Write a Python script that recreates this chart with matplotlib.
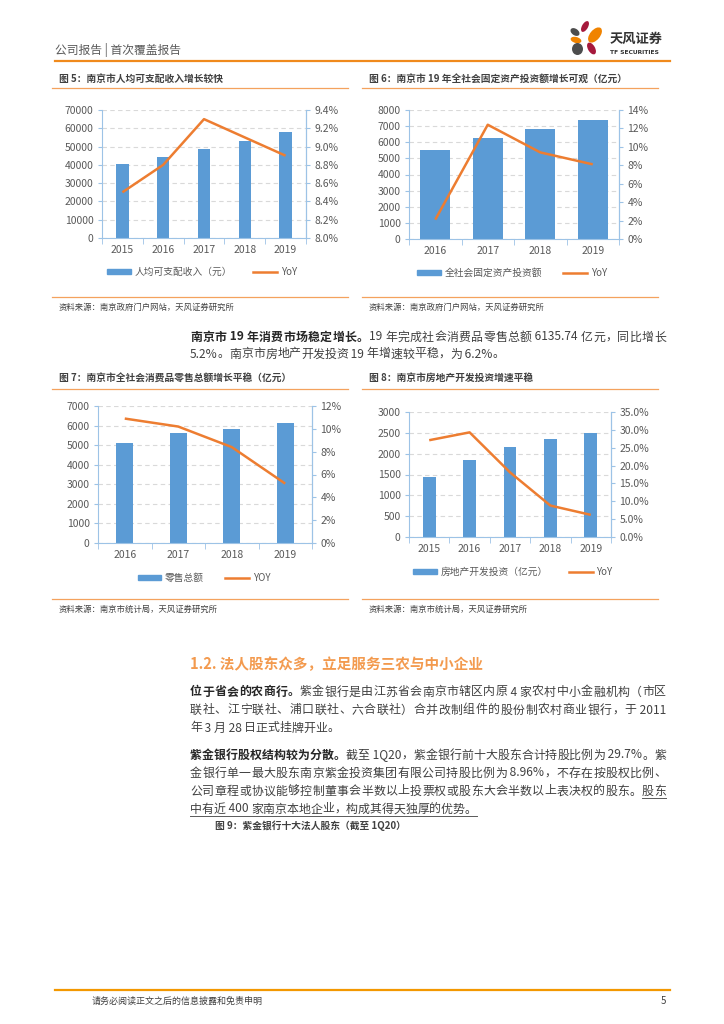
import matplotlib
matplotlib.use('Agg')
import matplotlib.pyplot as plt
from matplotlib.patches import Ellipse, Patch
from matplotlib.lines import Line2D
from matplotlib.ticker import FuncFormatter
from matplotlib.font_manager import FontProperties

plt.rcParams['font.family'] = ['Noto Sans CJK SC', 'DejaVu Sans']

W, H = 724, 1024
BLUE = '#5B9BD5'
ORANGE = '#ED7D31'
SPINE = '#9DC3E6'
TICK = '#595959'
BODY = '#404040'
DARK = '#262626'
RULE = '#F4A25E'

# ---- data ----
income_years = ['2015', '2016', '2017', '2018', '2019']
income = [40500, 44200, 48400, 53100, 57900]
income_yoy = [8.5, 8.8, 9.3, 9.1, 8.9]

invest_years = ['2016', '2017', '2018', '2019']
invest = [5550, 6250, 6830, 7360]
invest_yoy = [2.1, 12.4, 9.4, 8.1]

retail_years = ['2016', '2017', '2018', '2019']
retail = [5088, 5615, 5838, 6136]
retail_yoy = [10.9, 10.2, 8.4, 5.2]

estate_years = ['2015', '2016', '2017', '2018', '2019']
estate = [1430, 1855, 2170, 2360, 2505]
estate_yoy = [27.1, 29.3, 18.1, 8.8, 6.2]

fig = plt.figure(figsize=(W / 100, H / 100), dpi=100)
renderer = fig.canvas.get_renderer()


def fx(x):
    return x / W


def fy(y):
    return 1 - y / H


def hline(x0, x1, y, color, lw):
    fig.add_artist(Line2D([fx(x0), fx(x1)], [fy(y), fy(y)], color=color, lw=lw,
                          transform=fig.transFigure))


def chart(box, years, bars, yoy, bar_ticks, yoy_ticks, yoy_fmt, bar_w,
          labels, leg_xy):
    l, t, r, b = box
    ax = fig.add_axes([fx(l), fy(b), (r - l) / W, (b - t) / H])
    x = list(range(len(years)))
    ax.bar(x, bars, width=bar_w, color=BLUE, zorder=2)
    ax.set_xlim(-0.5, len(years) - 0.5)
    ax.set_ylim(bar_ticks[0], bar_ticks[-1])
    ax.set_yticks(bar_ticks)
    ax.set_xticks(x)
    ax.set_xticklabels(years)
    ax.set_xticks([i - 0.5 for i in range(len(years) + 1)], minor=True)
    ax.tick_params(axis='x', which='major', length=0, pad=5, labelsize=7.5,
                   labelcolor=TICK)
    ax.tick_params(axis='x', which='minor', length=4, color=SPINE)
    ax.tick_params(axis='y', length=3, color=SPINE, labelsize=7.5,
                   labelcolor=TICK, pad=3)
    ax.grid(axis='y', ls=(0, (4, 3)), color='#D9D9D9', lw=0.8)
    ax.set_axisbelow(True)
    ax.spines['top'].set_visible(False)
    for s in ['left', 'right', 'bottom']:
        ax.spines[s].set_color(SPINE)

    ax2 = ax.twinx()
    ax2.plot(x, yoy, color=ORANGE, lw=1.8, solid_capstyle='butt')
    ax2.set_ylim(yoy_ticks[0], yoy_ticks[-1])
    ax2.set_yticks(yoy_ticks)
    ax2.yaxis.set_major_formatter(FuncFormatter(lambda v, p: yoy_fmt.format(v)))
    ax2.tick_params(axis='y', length=3, color=SPINE, labelsize=7.5,
                    labelcolor=TICK, pad=3)
    for s in ['left', 'top', 'bottom']:
        ax2.spines[s].set_visible(False)
    ax2.spines['right'].set_color(SPINE)

    handles = [Patch(color=BLUE), Line2D([], [], color=ORANGE, lw=1.8)]
    fig.legend(handles, labels, loc='center',
               bbox_to_anchor=(fx(leg_xy[0]), fy(leg_xy[1])), ncol=2,
               frameon=False, fontsize=7, handlelength=2.4, handleheight=0.55,
               columnspacing=2.2, handletextpad=0.4, labelcolor=TICK)


def block(x0, x1, y_title, y_rule, y_bottom, title, source):
    fig.text(fx(x0 + 7), fy(y_title), title, fontsize=7, fontweight='bold',
             color=BODY, va='center')
    hline(x0, x1, y_rule, RULE, 0.9)
    hline(x0, x1, y_bottom, RULE, 0.9)
    fig.text(fx(x0 + 7), fy(y_bottom + 10), source, fontsize=6, color=BODY,
             va='center')


# ---- header ----
fig.text(fx(55), fy(50), '公司报告 | 首次覆盖报告', fontsize=8.5, color=TICK,
         va='center')
hline(55, 670, 61, '#F08A1C', 1.6)

logo = fig.add_axes([fx(566), fy(60), 44 / W, 42 / H])
logo.set_xlim(566, 610)
logo.set_ylim(60, 18)
logo.set_aspect('equal')
logo.axis('off')
petals = [((585, 26.5), 12, 6, -60, '#A6193C'),
          ((575, 32), 10, 6.5, 35, '#4D4D4D'),
          ((595, 35), 18, 10, -50, '#F08300'),
          ((576, 40), 11, 6, 15, '#F08300'),
          ((577.5, 49), 11, 12, 0, '#4D4D4D'),
          ((591.5, 48.5), 13, 7, 60, '#A6193C')]
for c, w, h, a, col in petals:
    logo.add_patch(Ellipse(c, w, h, angle=a, color=col, lw=0))
fig.text(fx(610), fy(39), '天风证券', fontsize=9.5, fontweight='bold',
         color='#333333', va='center')
fig.text(fx(610), fy(53), 'TF SECURITIES', fontsize=4.3, fontweight='bold',
         color='#333333', va='center', family='DejaVu Sans')

# ---- charts ----
block(52, 348, 79, 88, 297, '图 5：南京市人均可支配收入增长较快',
      '资料来源：南京政府门户网站，天风证券研究所')
chart((102, 110, 306, 238), income_years, income, income_yoy,
      list(range(0, 70001, 10000)), [8.0 + 0.2 * i for i in range(8)], '{:.1f}%',
      0.3, ['人均可支配收入（元）', 'YoY'], (202, 272))

block(362, 658, 79, 88, 297, '图 6：南京市 19 年全社会固定资产投资额增长可观（亿元）',
      '资料来源：南京政府门户网站，天风证券研究所')
chart((409, 110, 619, 239), invest_years, invest, invest_yoy,
      list(range(0, 8001, 1000)), list(range(0, 15, 2)), '{:.0f}%',
      0.57, ['全社会固定资产投资额', 'YoY'], (512, 273))

block(52, 348, 379, 389, 599, '图 7：南京市全社会消费品零售总额增长平稳（亿元）',
      '资料来源：南京市统计局，天风证券研究所')
chart((98, 406, 312, 543), retail_years, retail, retail_yoy,
      list(range(0, 7001, 1000)), list(range(0, 13, 2)), '{:.0f}%',
      0.31, ['零售总额', 'YOY'], (204, 578))

block(362, 658, 379, 389, 599, '图 8：南京市房地产开发投资增速平稳',
      '资料来源：南京市统计局，天风证券研究所')
chart((409, 412, 611, 537), estate_years, estate, estate_yoy,
      list(range(0, 3001, 500)), [5.0 * i for i in range(8)], '{:.1f}%',
      0.32, ['房地产开发投资（亿元）', 'YoY'], (513, 572))

# ---- body text ----
FS = 8.6


def ink(s, weight):
    prop = FontProperties(family=['Noto Sans CJK SC', 'DejaVu Sans'], size=FS,
                          weight=weight)
    return renderer.get_text_width_height_descent(s, prop, ismath=False)[0]


def adv(s, weight):
    # advance width of s, measured against a trailing ideograph
    if not s:
        return 0.0
    return ink(s + '国', weight) - ink('国', weight)


def lsb(s, weight):
    # left bearing of s relative to that of an ideograph
    em = ink('国国', weight) - ink('国', weight)
    return ink('国' + s, weight) - ink(s, weight) - em


def tokens(s):
    # one token per wide character, runs of ascii stay together
    out = [s[0]]
    for a, b in zip(s, s[1:]):
        if a.isascii() and b.isascii():
            out[-1] += b
        else:
            out.append(b)
    return out


def text_line(y, parts, justify, x0=190, x1=666):
    toks = [tokens(s) for s, b, u in parts]
    n = sum(len(t) for t in toks)
    real = [adv(s, 'bold' if b else 'normal') + lsb(s[0], 'bold' if b else 'normal')
            for s, b, u in parts]
    extra = (x1 - x0 - sum(real)) / (n - 1) if justify else 0.0
    x = x0
    i = 0
    for (s, bold, under), tk, width in zip(parts, toks, real):
        weight = 'bold' if bold else 'normal'
        first = lsb(s[0], weight)
        start = None
        off = 0
        for tok in tk:
            origin = x + (adv(s[:off], weight) + first if off else 0.0) + extra * i
            if tok.strip():
                px = origin + lsb(tok, weight)
                if start is None:
                    start = px
                fig.text(fx(px), fy(y), tok, fontsize=FS, fontweight=weight,
                         color=DARK if bold else BODY, va='center', ha='left')
            off += len(tok)
            i += 1
        end = x + width + extra * (i - 1)
        if under:
            hline(start, end, y + 7, '#595959', 0.7)
        x += width


text_line(337, [('南京市 19 年消费市场稳定增长。', True, False),
                ('19 年完成社会消费品零售总额 6135.74 亿元，同比增长', False, False)], True)
text_line(354, [('5.2%。南京市房地产开发投资 19 年增速较平稳，为 6.2%。', False, False)], False)

fig.text(fx(190), fy(664), '1.2. 法人股东众多，立足服务三农与中小企业', fontsize=10.5,
         fontweight='bold', color='#F39A4E', va='center')

text_line(692, [('位于省会的农商行。', True, False),
                ('紫金银行是由江苏省会南京市辖区内原 4 家农村中小金融机构（市区', False, False)], True)
text_line(710, [('联社、江宁联社、浦口联社、六合联社）合并改制组件的股份制农村商业银行，于 2011',
                 False, False)], True)
text_line(728, [('年 3 月 28 日正式挂牌开业。', False, False)], False)

text_line(755, [('紫金银行股权结构较为分散。', True, False),
                ('截至 1Q20，紫金银行前十大股东合计持股比例为 29.7%。紫', False, False)], True)
text_line(773, [('金银行单一最大股东南京紫金投资集团有限公司持股比例为 8.96%，不存在按股权比例、',
                 False, False)], True)
text_line(791, [('公司章程或协议能够控制董事会半数以上投票权或股东大会半数以上表决权的股东。', False, False),
                ('股东', False, True)], True)
text_line(809, [('中有近 400 家南京本地企业，构成其得天独厚的优势。', False, True)], False)

fig.text(fx(215), fy(826), '图 9：紫金银行十大法人股东（截至 1Q20）', fontsize=7,
         fontweight='bold', color=BODY, va='center')

# ---- footer ----
hline(55, 670, 990, '#F39800', 1.6)
fig.text(fx(92), fy(1001), '请务必阅读正文之后的信息披露和免责申明', fontsize=6.5,
         color=BODY, va='center')
fig.text(fx(666), fy(1001), '5', fontsize=7, color=BODY, va='center', ha='right')

fig.savefig('out.png', dpi=100)
